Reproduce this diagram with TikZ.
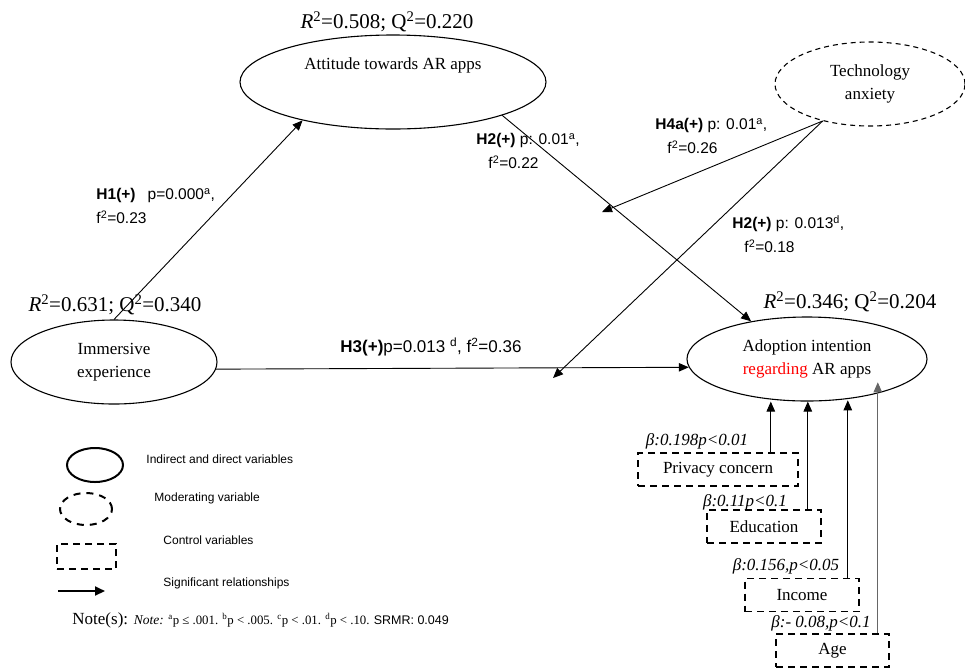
\documentclass[tikz,border=0pt]{standalone}
\usepackage{fontspec}
\setmainfont{Liberation Serif}
\setsansfont{Liberation Sans}
\usetikzlibrary{shapes.geometric,arrows.meta}

\tikzset{
  var/.style={ellipse, draw, line width=1.1pt, inner sep=0pt, align=center,
    font=\fontsize{17}{23}\selectfont},
  modvar/.style={var, dash pattern=on 5pt off 4pt},
  ctrl/.style={draw, line width=1.6pt, dash pattern=on 7pt off 5pt,
    minimum height=33pt, inner sep=0pt, font=\fontsize{17}{20}\selectfont},
  rsq/.style={font=\fontsize{21}{24}\selectfont, inner sep=0pt},
  est/.style={font=\sffamily\fontsize{15.5}{24}\selectfont, align=left,
    anchor=west, inner sep=0pt},
  beta/.style={font=\itshape\fontsize{17}{20}\selectfont, inner sep=0pt},
  leg/.style={font=\sffamily\fontsize{12}{14}\selectfont, anchor=west, inner sep=0pt},
}

\begin{document}
\begin{tikzpicture}[x=1pt, y=-1pt, line width=0.9pt,
    >={Triangle[length=10pt,width=8.5pt]}]
  \useasboundingbox (0,0) rectangle (965,670);

  % constructs
  \node[var, minimum width=306pt, minimum height=94pt] (A) at (393,82) {};
  \node[font=\fontsize{17}{23}\selectfont] (At) at (393,65) {Attitude towards AR apps};
  \node[modvar, minimum width=190pt, minimum height=84pt] (T) at (870,84)
    {Technology\\anxiety};
  \node[var, minimum width=206pt, minimum height=84pt] (I) at (114,362)
    {Immersive\\experience};
  \node[var, minimum width=240pt, minimum height=84pt] (AD) at (807,359)
    {Adoption intention\\\textcolor{red}{regarding} AR apps};

  \node[rsq] (rA) at (387,22) {\textit{R}\textsuperscript{2}=0.508; Q\textsuperscript{2}=0.220};
  \node[rsq] (rI) at (115,305) {\textit{R}\textsuperscript{2}=0.631; Q\textsuperscript{2}=0.340};
  \node[rsq] (rAD) at (850,302) {\textit{R}\textsuperscript{2}=0.346; Q\textsuperscript{2}=0.204};

  % paths
  \coordinate (m1) at (602,212);
  \coordinate (m2) at (553,378);
  \draw[->] (I.north) -- (A.203);
  \draw[->] (A.343) -- (AD.146);
  \draw[->] (I.-4) -- (AD.184);
  \draw[->] (T.218) -- (m1);
  \draw[->] (T.218) -- (m2);

  \node[est] (h1) at (96,206) {\textbf{H1(+)}\hspace{12pt}p=0.000\textsuperscript{a},\\f\textsuperscript{2}=0.23};
  \node[est] (h2) at (476,151) {\textbf{H2(+)} p: 0.01\textsuperscript{a},\\\hspace*{12pt}f\textsuperscript{2}=0.22};
  \node[est] (h4a) at (655,136) {\textbf{H4a(+)} p: 0.01\textsuperscript{a},\\\hspace*{12pt}f\textsuperscript{2}=0.26};
  \node[est] (h2b) at (732,234) {\textbf{H2(+)} p: 0.013\textsuperscript{d},\\\hspace*{12pt}f\textsuperscript{2}=0.18};
  \node[est, font=\sffamily\fontsize{17}{20}\selectfont] (h3) at (340,347)
    {\textbf{H3(+)}p=0.013 \textsuperscript{d}, f\textsuperscript{2}=0.36};

  % control variables
  \node[ctrl, minimum width=160pt] (PC) at (718,469.5) {Privacy concern};
  \node[ctrl, minimum width=114pt] (ED) at (764,526.5) {Education};
  \node[ctrl, minimum width=114pt] (IN) at (802,595) {Income};
  \node[ctrl, minimum width=113pt] (AG) at (832.5,650.5) {Age};

  \draw[->] ([xshift=-28pt]PC.north east) coordinate (pc) -- (pc |- AD.south);
  \draw[->] ([xshift=-14pt]ED.north east) coordinate (ed) -- (ed |- AD.south);
  \draw[->] ([xshift=-12pt]IN.north east) coordinate (in) -- (in |- AD.-55);
  \draw[->, gray!80!black] ([xshift=-12pt]AG.north east) coordinate (ag) -- (ag |- AD.-13);

  \node[beta] (bPC) at (697,441) {β:0.198p<0.01};
  \node[beta] (bED) at (745,502) {β:0.11p<0.1};
  \node[beta] (bIN) at (786,566) {β:0.156,p<0.05};
  \node[beta] (bAG) at (821,623) {β:- 0.08,p<0.1};

  % legend
  \node[ellipse, draw, line width=2pt, minimum width=56pt, minimum height=34pt] (L1) at (95,465) {};
  \node[ellipse, draw, line width=2pt, dash pattern=on 7pt off 6pt,
    minimum width=52pt, minimum height=32pt] (L2) at (86,509) {};
  \node[draw, line width=2pt, dash pattern=on 7pt off 5pt,
    minimum width=59pt, minimum height=25pt] (L3) at (86.5,556.5) {};
  \coordinate (l4a) at (58,591);
  \coordinate (l4b) at (105,591);
  \draw[->, line width=2pt, >={Triangle[length=10pt,width=9pt]}] (l4a) -- (l4b);

  \node[leg] (t1) at (146,459) {Indirect and direct variables};
  \node[leg] (t2) at (154,498) {Moderating variable};
  \node[leg] (t3) at (163,540) {Control variables};
  \node[leg] (t4) at (163,583) {Significant relationships};

  \node[anchor=west, inner sep=0pt] (note) at (72,620)
    {\fontsize{17}{20}\selectfont Note(s): \fontsize{13.5}{15}\selectfont\textit{Note:}
     \fontsize{12.8}{15}\selectfont\textsuperscript{a}p ≤ .001. \textsuperscript{b}p < .005.
     \textsuperscript{c}p < .01. \textsuperscript{d}p < .10. \sffamily\fontsize{12.5}{15}\selectfont SRMR: 0.049};
\end{tikzpicture}
\end{document}
